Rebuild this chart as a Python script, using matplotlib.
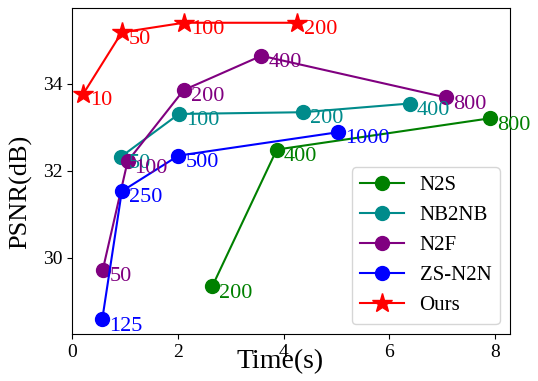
import matplotlib
matplotlib.use('Agg')
import matplotlib.pyplot as plt

plt.rcParams['font.family'] = ['Liberation Serif', 'DejaVu Serif']

# data (time in s, PSNR in dB, label = iterations)
n2s_t = [2.65, 3.87, 7.90]
n2s_p = [29.34, 32.49, 33.21]
n2s_lab = ['200', '400', '800']

nb2nb_t = [0.93, 2.02, 4.37, 6.38]
nb2nb_p = [32.33, 33.31, 33.35, 33.55]
nb2nb_lab = ['50', '100', '200', '400']

n2f_t = [0.58, 1.05, 2.11, 3.58, 7.07]
n2f_p = [29.72, 32.22, 33.86, 34.65, 33.69]
n2f_lab = ['50', '100', '200', '400', '800']

zs_t = [0.57, 0.94, 2.01, 5.03]
zs_p = [28.58, 31.53, 32.35, 32.89]
zs_lab = ['125', '250', '500', '1000']

ours_t = [0.21, 0.94, 2.11, 4.26]
ours_p = [33.77, 35.19, 35.41, 35.41]
ours_lab = ['10', '50', '100', '200']

series = [
    ('N2S', n2s_t, n2s_p, n2s_lab, 'green', 'o'),
    ('NB2NB', nb2nb_t, nb2nb_p, nb2nb_lab, 'darkcyan', 'o'),
    ('N2F', n2f_t, n2f_p, n2f_lab, 'purple', 'o'),
    ('ZS-N2N', zs_t, zs_p, zs_lab, 'blue', 'o'),
    ('Ours', ours_t, ours_p, ours_lab, 'red', '*'),
]

fig = plt.figure(figsize=(5.38, 3.81), dpi=100)
ax = fig.add_axes((0.134, 0.123, 0.814, 0.856))

for name, t, p, lab, c, mk in series:
    ms = 15 if mk == '*' else 10
    ax.plot(t, p, '-', color=c, marker=mk, ms=ms, lw=1.5, label=name)
    for xi, yi, s in zip(t, p, lab):
        ax.annotate(s, (xi, yi), xytext=(5, 2), textcoords='offset points',
                    ha='left', va='top', color=c, fontsize=16)

ax.set_xlim(0, 8.28)
ax.set_ylim(28.24, 35.75)
ax.set_xticks([0, 2, 4, 6, 8])
ax.set_yticks([30, 32, 34])
ax.tick_params(labelsize=14)

ax.set_xlabel('Time(s)', fontsize=20)
ax.set_ylabel('PSNR(dB)', fontsize=19)
ax.xaxis.set_label_coords(0.475, -0.045)
ax.yaxis.set_label_coords(-0.09, 0.436)

ax.legend(loc='lower right', fontsize=15, handlelength=2.1, handletextpad=0.75)

fig.savefig('out.png', dpi=100)
